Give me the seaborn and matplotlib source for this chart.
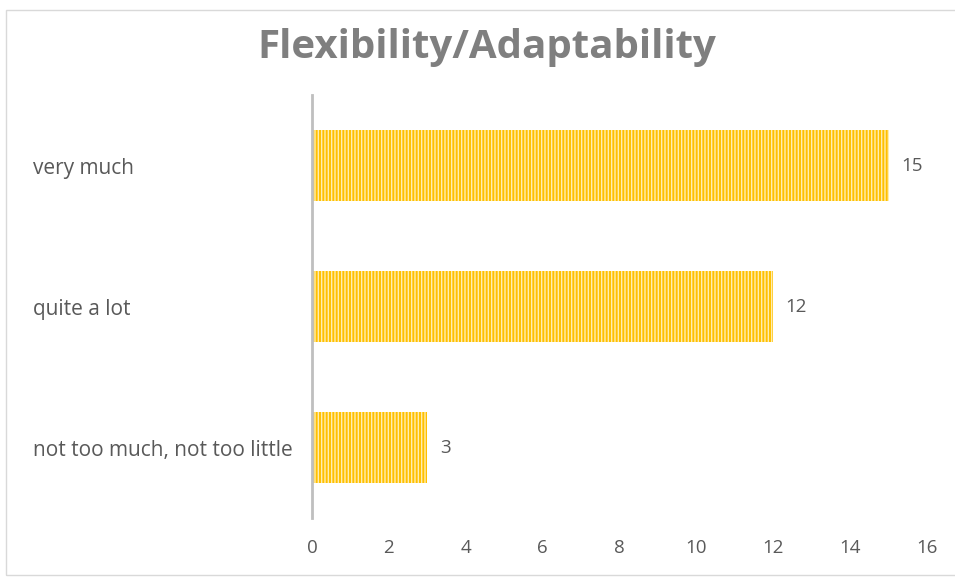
import matplotlib.pyplot as plt
import seaborn as sns
import pandas as pd
from matplotlib.patches import Rectangle

categories = ["very much", "quite a lot", "not too much, not too little"]
counts = [15, 12, 3]
xticks = [0, 2, 4, 6, 8, 10, 12, 14, 16]

df = pd.DataFrame({"answer": categories, "count": counts})

sns.set_style("white")
plt.rcParams['font.family'] = ['Open Sans', 'DejaVu Sans']
plt.rcParams['hatch.linewidth'] = 1.0

fig = plt.figure(figsize=(9.55, 5.78), dpi=100)
ax = fig.add_axes([0.3267, 0.1038, 0.6440, 0.7318])

sns.barplot(data=df, x="count", y="answer", orient="h", color="#FFC000",
            width=0.51, saturation=1, ax=ax)
for bar in ax.patches:
    bar.set_hatch("|||||")
    bar.set_edgecolor("#FFEDB0")
    bar.set_linewidth(0)

ax.bar_label(ax.containers[0], padding=9, color="#595959", fontsize=13.5)

ax.set_xlim(0, 16)
ax.set_xticks(xticks)
ax.set_xticklabels([str(t) for t in xticks], color="#595959", fontsize=13.5)
ax.set_xlabel("")
ax.set_ylabel("")
ax.tick_params(axis="x", length=0, pad=15)
ax.tick_params(axis="y", length=0, pad=201)
for lab in ax.get_yticklabels():
    lab.set_horizontalalignment("left")
    lab.set_color("#595959")
    lab.set_fontsize(15)

for s in ["top", "right", "bottom"]:
    ax.spines[s].set_visible(False)
ax.spines["left"].set_color("#BFBFBF")
ax.spines["left"].set_linewidth(2)

fig.text(0.51, 1 - 58 / 578, "Flexibility/Adaptability", ha="center",
         va="baseline", fontsize=29, fontweight="bold", color="#7F7F7F")

fig.patches.append(Rectangle((6 / 955, 3 / 578), 1.0, 1 - 13 / 578,
                             transform=fig.transFigure, fill=False,
                             edgecolor="#D9D9D9", linewidth=1))

fig.savefig("out.png", dpi=100)
